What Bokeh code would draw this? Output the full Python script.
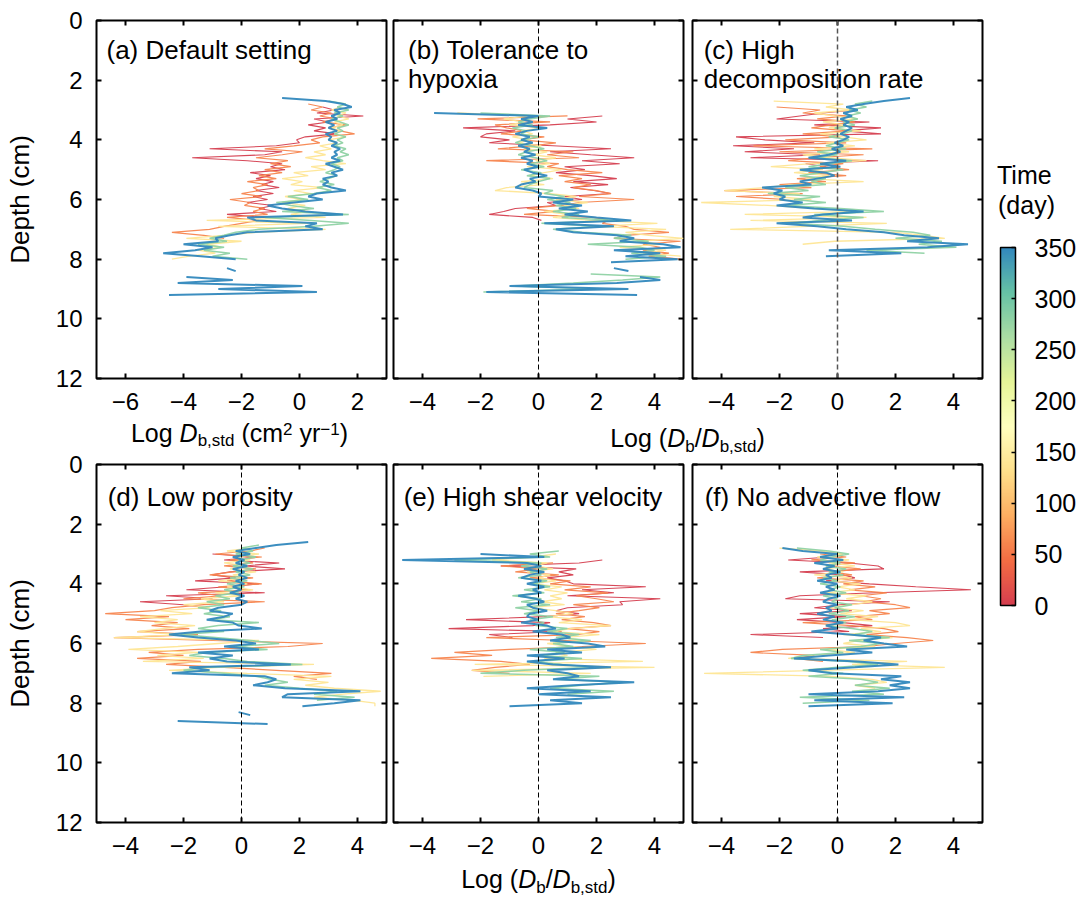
import numpy as np
from bokeh.plotting import figure
from bokeh.models import (Range1d, FixedTicker, LinearAxis, Label, Span, ColorBar,
                          LinearColorMapper)
from bokeh.layouts import row, column
from bokeh.embed import file_html
from bokeh.resources import INLINE

FONT = "Liberation Sans"
BASE_SHIFT = 0.37  # Label baseline correction, in em

# ---------------- data ----------------
# time (day) of each drawn profile, and the colour-bar ticks
TIMES = [0, 60, 140, 280, 350]
CB_TICKS = [0, 50, 100, 150, 200, 250, 300, 350]
DEPTH_TICKS = [0, 2, 4, 6, 8, 10, 12]
X_TICKS_A = [-6, -4, -2, 0, 2]
X_TICKS = [-4, -2, 0, 2, 4]
DZ = 0.1  # depth spacing of the profiles (cm)

# each profile: (first depth in cm, values every 0.1 cm; None = no value)
A_RED = (2.9, [0.8, 1.2, 0.6, 2.2, 0.5, 1.0, 0.3, 0.9, 0.5, 1.3, 0.2, -0.1, 0.0, -0.8, -3.1, -0.6, -1.2, -3.7,
               -1.8, -0.6, -1.0, -0.5, -1.7, -1.0, -1.5, -0.9, -1.3, -0.7, -1.5, -0.9, -1.6, -1.1, -1.8, -0.9,
               -1.4, -0.8, -2.5, -1.2])
A_ORANGE = (2.8, [0.3, 0.8, 0.4, 1.1, 0.7, 1.3, 0.8, 1.6, 1.0, 1.4, 1.9, 0.8, 0.4, 0.7, -0.2, -1.2, 0.1, -0.6,
                  -1.5, -0.4, -1.0, -0.3, -1.2, -0.6, -1.4, -0.8, -1.8, -1.1, -1.6, -1.4, -2.0, -1.3, -2.4, -1.7,
                  -1.9, -1.2, -1.6, -1.1, -2.5, -1.4, -2.0, -2.6, -3.1, -4.4, -3.3, -2.6])
A_YELLOW = (2.9, [1.4, 1.1, 1.6, 1.3, 1.7, 1.2, 1.5, 1.1, 1.4, 1.2, 1.6, 1.0, 1.3, 0.7, 1.1, 0.5, 0.9, 0.2, 0.8,
                  1.6, 0.4, 0.9, -0.2, 0.3, -0.6, 0.1, -0.3, 0.8, -0.2, 0.4, -0.5, 0.1, -0.6, 0.2, -0.4, 0.3,
                  -0.3, 0.9, -3.2, 0.3, -2.8, 0.9, -1.5, -2.6, -3.9, -2.0, -3.2, -2.7, -3.5, -2.9, -3.8, -4.4])
A_GREEN = (2.7, [1.0, 1.6, 1.3, 1.7, 1.2, 1.5, 1.1, 1.4, 1.7, 1.3, 1.5, 1.2, 1.6, 1.3, 1.5, 1.2, 1.6, 1.4, 1.7,
                 1.3, 1.5, 1.1, 1.4, 1.2, 0.9, 1.3, 1.0, 0.7, 1.2, 0.6, 1.1, 0.5, -0.4, 0.3, -0.8, -0.3, 0.5,
                 -0.6, 1.7, -1.2, 0.4, 1.7, 0.5, -1.4, -2.2, -2.6, -3.1, -2.5, -3.5, -2.6, -3.3, -2.4, -3.0, -1.8])
A_BLUE = (2.6, [-0.6, 0.9, 1.5, 1.8, 1.2, 1.4, 1.1, 1.3, 0.9, 1.2, 1.0, 1.3, 0.9, 1.1, 1.0, 1.3, 1.1, 1.4, 1.2,
                1.3, 1.1, 1.4, 0.9, 1.2, 1.5, 1.1, 1.3, 0.8, 1.0, 0.8, 1.1, 1.6, 0.6, 0.3, 0.8, -0.2, -1.1, -0.6,
                0.2, 1.5, -1.8, -1.5, 0.6, 0.2, 0.8, -1.8, -2.4, -2.9, -2.8, -4.0, -3.0, -3.6, -4.7, -3.4, -2.2,
                None, None, -2.5, -2.2, None, -3.9, -2.3, -4.2, 0.1, -2.8, 0.6, -4.5])

B_RED = (3.2, [2.2, 1.0, 2.0, 0.4, -2.6, -0.8, -1.8, -2.0, -1.0, -1.7, 0.5, 2.5, 0.4, 1.8, 3.3, 1.5, 2.8, 0.9,
               1.6, 0.6, 1.8, 2.7, 1.2, 2.4, 1.1, 1.9, 2.5, 0.9, 1.5, 0.3, 0.6, -0.8, -1.2, -1.7, -0.2, 0.1])
B_ORANGE = (3.2, [1.0, -2.1, 0.4, -1.5, -1.1, -0.5, -1.3, 0.2, -0.6, 0.6, -0.2, -1.4, 1.2, 0.3, 1.4, -1.8, 0.7,
                  0.3, 1.0, 2.2, 0.7, 1.5, 0.9, 1.8, 1.2, 2.0, 2.5, 1.4, 3.3, 1.4, 0.8, -0.4, 0.6, -0.5, 1.9, 2.4,
                  2.2, 3.0, 3.3, 4.5, 3.0, 2.6, 4.9, 3.6, 4.2, 3.6, 4.5, 3.8, 4.9])
B_YELLOW = (3.1, [-2.8, -0.3, -1.2, -0.5, -1.0, 0.1, -0.6, -0.2, -0.9, -0.3, -0.7, 0.1, -0.5, 0.3, -0.2, 0.6,
                  -0.1, 0.4, -0.4, 0.8, 0.2, -0.3, 0.5, -0.6, 0.2, -1.1, -1.5, 0.4, 1.3, 0.6, 1.7, 0.9, 1.4, 0.2,
                  1.0, 0.5, 1.8, 4.1, 2.0, 4.4, 3.0, 3.8, 5.0, 3.4, 4.2, 2.8, 4.4, 3.6, 4.9])
B_GREEN = (3.1, [-2.0, 0.4, -0.3, -0.7, -0.2, -0.9, -0.4, -0.6, 0.0, -0.5, -0.8, -0.3, 0.2, -0.4, -0.7, -0.1,
                 0.3, -0.3, 0.2, -0.6, 0.1, -0.4, 0.4, 0.0, -0.3, -0.5, 0.5, 0.2, 0.9, 0.3, 1.1, 0.6, 1.3, 0.5,
                 1.4, 0.8, 2.8, 0.1, 2.1, 0.5, 1.5, 3.2, 2.6, 3.8, 1.7, 3.5, 4.0, 3.2, 4.4, 3.0, None, None, None,
                 None, 1.8, 4.2, 2.9, 1.2, -0.8, 2.0, -1.9])
B_BLUE = (3.1, [-3.6, 0.0, -0.6, -0.2, -0.7, 0.3, -0.4, -0.8, -0.3, -0.6, -0.2, -0.7, -0.3, -0.5, -0.1, -0.6,
                -0.2, -0.4, 0.0, -0.5, -0.2, 0.3, -0.3, -0.1, -0.6, -0.8, -0.2, 0.1, 0.0, 1.2, 0.5, 1.5, 0.7, 1.7,
                0.9, 2.0, 3.2, 0.2, 2.6, 0.6, 1.2, 2.7, 3.3, 2.8, 4.3, 4.9, 2.6, 4.2, 3.0, 4.8, 2.5, None, 2.6,
                3.1, None, 3.5, 4.2, 2.7, -1.0, 3.1, -1.8, 3.4])

C_RED = (3.0, [0.6, -0.5, -1.3, -2.1, 1.1, -0.8, 1.5, 0.2, 1.5, -3.5, -2.5, -0.8, -3.6, -1.5, -3.2, -0.6, -3.0,
               1.4, -1.1, -0.4])
C_ORANGE = (2.9, [-2.1, -0.6, -1.2, 0.3, -0.7, 0.6, -0.2, -0.9, 0.4, -1.2, 0.1, -1.8, 0.3, -2.9, 1.2, -2.0, 0.9,
                  -0.8, -1.7, 0.2, -0.6, 0.4, -1.0, 0.3, -1.4, -0.4, -2.0, -0.9, -3.9, -1.2, -3.5, -1.8])
C_YELLOW = (2.7, [-2.2, 0.2, -0.4, 0.5, -0.8, -0.1, 0.7, -0.5, 0.3, -0.3, 0.8, -0.6, 0.2, 1.0, -0.4, 0.6, -0.8,
                  0.4, -1.2, -0.3, 1.0, -0.9, -2.3, -0.5, -1.5, -0.3, -1.1, 0.9, -1.6, -2.5, -3.9, -1.3, -2.2, -0.9,
                  -4.7, -2.4, -0.9, 0.7, -3.2, 1.0, -3.0, 1.7, -1.0, -3.7, 2.0, 3.0, 3.7, -0.1, -1.2])
C_GREEN = (2.7, [1.2, 0.6, 1.0, 0.4, 0.8, 0.3, 0.7, 0.2, 0.6, -0.1, 0.5, 0.2, -0.3, 0.4, 0.0, -0.4, 0.3, -0.7,
                 0.0, -0.8, 0.5, -0.3, -1.0, 0.2, -0.6, -1.3, -0.4, -0.9, -0.4, -1.8, -1.0, -2.4, -0.6, -1.5, -0.4,
                 -1.8, 0.1, 1.6, -0.8, 0.9, -0.6, -1.6, 0.2, 1.3, 2.6, 3.2, 2.0, 3.6, 2.8, 4.1, 1.0, 3.0])
C_BLUE = (2.6, [2.5, 1.6, 0.9, 0.3, 0.7, 0.2, 0.5, 0.1, 0.4, 0.2, 0.5, 0.3, 0.1, 0.4, 0.2, -0.1, 0.2, -0.2, 0.1,
                -0.3, -1.0, 0.3, -0.6, 0.1, -1.3, -0.4, -0.1, -0.7, -1.3, -0.9, -2.6, -1.9, -2.2, -1.8, -2.0, -1.2,
                -2.1, -0.8, 0.9, -0.5, -1.2, 0.5, -2.1, -0.7, 0.3, 1.6, 2.3, 3.5, 2.4, 4.5, 3.1, -0.3, 2.2, -0.4])

D_RED = (3.0, [-1.0, 0.5, -0.6, 1.3, 0.1, 1.5, -0.4, -1.0, -0.2, -1.6, 0.6, -0.5, -1.9, 0.8, -2.6, -1.0, -3.5,
               -2.0, -1.2])
D_ORANGE = (2.8, [0.8, 0.3, -0.9, 0.7, -0.4, 0.4, -0.6, 0.5, -0.3, -1.1, 0.4, -0.5, 0.7, -0.8, 0.3, -1.5, -0.7,
                  -2.0, 0.8, -1.3, -2.4, -3.0, -4.7, -2.5, -4.0, -2.2, -3.1, -1.8, -3.6, -1.5, -4.4, -1.0, 2.8,
                  1.6, -1.5, -3.2, -2.0, -3.6, -1.4, -2.6, -0.6, 1.2, 3.1, 1.8, 2.6])
D_YELLOW = (2.8, [0.3, -0.5, 0.6, -0.2, 0.3, -0.6, 0.2, -0.4, 0.5, -0.3, 0.1, -0.8, 0.2, -0.5, 0.4, -0.9, 0.0,
                  -1.4, -0.6, -2.0, -1.1, -2.8, -1.7, -3.5, -2.2, -3.0, -1.6, -2.7, -3.6, -2.0, -4.4, 0.6, -0.8,
                  -2.2, -3.9, -1.5, -2.9, -1.3, -3.4, 2.5, -0.8, -2.5, 0.2, 3.1, 1.8, 3.0, 2.2, 3.2, 4.8, 3.5, 2.5,
                  3.8, 4.6, 4.6])
D_GREEN = (2.7, [0.6, 0.0, 0.4, -0.2, 0.5, -0.1, 0.3, -0.3, 0.4, -0.2, 0.3, -0.4, 0.2, -0.5, 0.1, -0.6, -0.1,
                 -0.9, -0.4, -1.2, -0.6, -1.5, -0.7, -1.3, -0.4, -1.0, 0.6, -0.8, -1.5, -0.6, -2.1, -0.9, 0.3, 1.3,
                 -0.2, 0.9, -1.2, -1.8, -0.6, 0.2, 2.1, -1.2, -2.0, -0.6, 0.5, 1.0, 1.6, 0.8, 2.0, 3.3, 2.5, 3.9,
                 2.6])
D_BLUE = (2.6, [2.3, 1.2, 0.5, -0.2, 0.3, -0.3, 0.1, -0.2, 0.2, -0.3, 0.1, -0.1, 0.2, -0.2, 0.1, -0.3, 0.0, -0.4,
                0.1, -0.2, 0.2, 0.0, -0.8, -1.1, -0.3, -0.6, -1.2, -0.3, -0.1, 0.7, -1.4, -2.5, -1.5, -0.2, 0.5,
                -0.6, 0.6, -1.5, -0.3, -1.1, -0.5, 1.7, -1.8, -1.1, -2.4, 0.8, 1.2, 0.9, 0.4, 1.5, 4.1, 1.6, 1.4,
                4.1, 3.2, 2.1, None, -0.1, 0.3, None, -2.2, 0.9])

E_RED = (3.2, [2.2, 1.4, -1.3, 1.3, 0.7, 1.2, 0.3, 0.9, 1.2, 3.7, 1.5, 2.6, 1.0, 4.2, 2.8, 2.9, 1.0, 0.6, 1.4, 0.2,
               -2.5, 0.4, -0.2, -3.1, 0.8, -1.7, -0.9])
E_ORANGE = (3.3, [0.5, -1.3, 0.0, -0.8, 0.7, -0.3, 1.1, 0.4, 1.8, 0.9, 2.4, 1.3, 2.0, 2.6, 1.2, 2.1, 1.4, 0.6, 1.6,
                  0.8, 1.9, 2.5, 1.0, 2.1, 1.3, -1.8, 0.9, 3.7, 1.5, -1.0, -2.9, -1.6, -3.7, -1.3, -0.3, -1.5,
                  -2.3, -1.0])
E_YELLOW = (3.0, [0.6, -0.2, -1.6, 0.3, -0.1, 0.5, -0.4, 0.4, 0.0, 0.6, -0.2, 0.8, 0.2, 1.0, 0.4, 0.8, 0.1, 0.9,
                  -0.3, 0.6, 1.2, 0.3, 1.5, 0.7, 2.5, 1.1, 0.5, 2.1, 0.8, 1.6, 0.3, 1.1, 2.0, 0.6, 1.0, 0.2, 3.6,
                  -2.2, 4.0, -2.3, 1.8, -1.9])
E_GREEN = (2.9, [0.7, -0.3, 0.4, -2.9, 0.1, -0.6, 0.3, -0.3, 0.1, -0.7, 0.3, -0.2, 0.4, -0.5, 0.2, -0.9, 0.1,
                 -0.6, 0.4, -0.8, 0.0, -0.5, 0.5, -0.3, 0.2, -0.1, 1.0, 0.3, 1.4, 0.6, 1.8, 0.5, 1.2, -0.3, 0.9,
                 0.1, 1.5, -0.2, 0.8, 1.9, -0.5, -2.0, 2.1, 0.6, 2.9, 1.5, 0.4, 2.6, 1.0])
E_BLUE = (3.0, [-2.0, 0.2, -4.7, -0.4, 0.1, -0.5, 0.2, -0.3, -0.6, 0.1, -0.4, 0.2, -0.2, 0.1, -0.7, -0.1, 0.2,
                -0.4, -0.2, 0.3, -0.3, -0.4, 0.0, -0.6, 0.3, 0.6, -0.2, 0.8, 1.1, 0.4, 1.7, 2.3, 0.3, 1.5, -0.4,
                0.9, -0.4, 0.5, 2.5, 0.3, 1.0, 1.4, 0.5, 3.3, 1.2, -0.4, 1.8, 0.0, 2.5, 0.4, 1.5, -1.0])

F_RED = (3.1, [-0.3, -1.7, 0.4, 1.4, 1.6, -1.3, 0.2, 0.6, -0.4, 1.1, 2.7, 4.6, 1.3, -1.3, -1.8, 1.8, 0.1, -0.8,
               0.5, -1.3, 0.3, -1.4, 0.2, 1.2, -0.5, 0.4, -3.0, -0.5])
F_ORANGE = (3.0, [-0.6, 0.3, -0.9, 0.6, -0.4, 0.8, -0.2, 0.5, -0.7, 0.9, 0.2, 1.3, 0.4, 1.7, 0.8, 1.5, 0.9, 2.0,
                  2.5, 1.1, 1.8, 0.6, 1.2, -1.2, 0.5, 1.6, 2.1, 1.0, 2.4, 3.3, 2.0, 1.0, -1.9, -3.0, -0.8, -1.5,
                  -0.5])
F_YELLOW = (2.8, [-2.0, -0.6, 0.2, -0.7, 0.4, -0.3, 0.6, -0.5, 0.2, -0.8, 0.5, -0.2, 0.8, 0.0, 0.6, -0.4, 1.0,
                  0.3, 1.2, 0.5, -0.3, 0.9, 0.1, 1.4, 0.4, 2.0, 2.5, 0.8, 1.5, 0.2, 1.9, 0.7, 0.2, 1.3, -0.4, 0.6,
                  -1.0, -1.7, 2.4, 0.5, 3.7, -0.6, -4.6, -0.2, 1.2, 1.7, 0.6, 1.3])
F_GREEN = (2.8, [-1.4, -0.3, 0.4, -0.2, -0.6, 0.1, -0.4, 0.3, -0.3, 0.2, -0.5, 0.0, -0.6, 0.1, -0.3, 0.3, -0.5,
                 0.0, -0.2, 0.5, -0.1, 0.4, -0.3, 0.6, -0.2, 0.3, -0.4, 0.5, 1.2, 0.6, 1.8, 0.4, 1.5, 0.8, -0.6,
                 0.2, -1.2, -1.6, 0.4, 1.4, 0.0, -1.2, 0.2, -1.0, 0.8, 1.4, 0.6, 1.8, 0.5, 1.6, -1.3, 1.1, -1.2])
F_BLUE = (2.8, [-1.9, -1.2, 0.0, -0.6, 0.2, -0.8, -0.1, -0.5, 0.1, -0.4, -0.2, -0.7, 0.0, -0.4, -0.1, -0.6, 0.1,
                -0.3, -0.5, 0.0, -0.4, -0.2, -0.7, -0.1, -0.5, 0.2, -0.4, 0.0, -0.9, 0.4, 1.5, 0.9, 1.6, 2.4, 0.3,
                1.2, -0.3, -1.5, 0.7, 2.1, 0.6, -1.0, -0.2, 2.2, 1.5, 2.5, 1.8, 2.5, 1.4, -1.0, 2.3, -0.8, 1.9,
                -1.0])

TITLES = {
    "a": ["(a) Default setting"],
    "b": ["(b) Tolerance to", "hypoxia"],
    "c": ["(c) High", "decomposition rate"],
    "d": ["(d) Low porosity"],
    "e": ["(e) High shear velocity"],
    "f": ["(f) No advective flow"],
}

# ---------------- colour map (red -> yellow -> blue) ----------------
STOPS = ["#d53e4f", "#f46d43", "#fdae61", "#fee08b", "#ffffbf", "#e6f598", "#abdda4", "#66c2a5", "#3288bd"]
STOP_RGB = np.array([[int(s[i:i + 2], 16) for i in (1, 3, 5)] for s in STOPS], dtype=float)
STOP_POS = np.linspace(0, 350, len(STOPS))


def color_at(t):
    rgb = [np.interp(t, STOP_POS, STOP_RGB[:, k]) for k in range(3)]
    return "#%02x%02x%02x" % tuple(int(round(c)) for c in rgb)


PALETTE = [color_at(t) for t in np.linspace(0, 350, 256)]
LINE_WIDTHS = [1.1, 1.2, 1.3, 1.5, 2.0]

# ---------------- helpers ----------------
CHAR_W = {' ': 278, '(': 333, ')': 333, ',': 278, '/': 278, '-': 333, '\u2212': 584, '0': 556, '1': 556,
          '2': 556, 'L': 556, 'o': 556, 'g': 556, 'D': 722, 'b': 556, 's': 500, 't': 278, 'd': 556, 'c': 500,
          'm': 833, 'y': 500, 'r': 333}


def text_w(s, size):
    return sum(CHAR_W.get(ch, 556) for ch in s) * size / 1000.0


def page_label(fig, x, y_base, text, size, style="normal"):
    """Label whose glyph baseline sits at page-pixel y_base (strip / colour-bar figures)."""
    fig.add_layout(Label(x=x, y=y_base - BASE_SHIFT * size, text=text, text_font=FONT,
                         text_font_size=f"{size}px", text_font_style=style, text_baseline="alphabetic",
                         text_align="left", text_color="black"))


def rich_label(fig, xc, yb, pieces):
    total = sum(text_w(t, sz) for t, sz, st, dy in pieces)
    x = xc - total / 2.0
    for t, sz, st, dy in pieces:
        if t.strip():
            page_label(fig, x, yb + dy, t, sz, st)
        x += text_w(t, sz)


def style_axis(ax, ticks, labels=True):
    ax.ticker = FixedTicker(ticks=ticks)
    ax.major_tick_in = 5
    ax.major_tick_out = 0
    ax.major_tick_line_width = 2
    ax.major_tick_line_color = "black"
    ax.minor_tick_line_color = None
    ax.axis_line_color = None
    if labels:
        ax.major_label_text_font = FONT
        ax.major_label_text_font_size = "24px"
        ax.major_label_text_color = "black"
        ax.major_label_standoff = 14
    else:
        ax.major_label_overrides = {t: "" for t in ticks}
        ax.major_label_text_font_size = "0px"
        ax.major_label_standoff = 0


def blank_axis(ticks):
    ax = LinearAxis()
    style_axis(ax, ticks, labels=False)
    return ax


def make_panel(key, xr, xticks, width, height, lb, rb, tb, bb, ylabels, profiles, dashed, title_y):
    p = figure(width=width, height=height, x_range=Range1d(*xr), y_range=Range1d(12, 0),
               output_backend="svg", toolbar_location=None, title=None,
               min_border_left=lb, min_border_right=rb, min_border_top=tb, min_border_bottom=bb)
    p.grid.visible = False
    p.outline_line_color = "black"
    p.outline_line_width = 2
    p.background_fill_color = "white"
    p.border_fill_color = "white"
    style_axis(p.xaxis[0], xticks, True)
    style_axis(p.yaxis[0], DEPTH_TICKS, ylabels)
    if ylabels:
        p.yaxis[0].axis_label = "Depth (cm)"
        p.yaxis[0].axis_label_text_font = FONT
        p.yaxis[0].axis_label_text_font_size = "26px"
        p.yaxis[0].axis_label_text_font_style = "normal"
        p.yaxis[0].axis_label_text_color = "black"
        p.yaxis[0].axis_label_standoff = 18
    p.add_layout(blank_axis(xticks), "above")
    p.add_layout(blank_axis(DEPTH_TICKS), "right")
    if dashed:
        if key == "c":
            p.add_layout(Span(location=0, dimension="height", line_color="#555555", line_width=1.5,
                              line_dash="5 3"))
        else:
            p.add_layout(Span(location=0, dimension="height", line_color="black", line_width=1,
                              line_dash="5 3"))
    for (z0, vals), t, lw in zip(profiles, TIMES, LINE_WIDTHS):
        x = np.array(vals, dtype=float)
        z = z0 + DZ * np.arange(len(x))
        p.line(x=x, y=z, line_color=color_at(t), line_width=lw, line_alpha=0.95)
    off = {"a": 10.0, "b": 14.5, "c": 11.2, "d": 11.2, "e": 10.2, "f": 12.2}[key]
    tx = xr[0] + off / 29.0
    ty = title_y - BASE_SHIFT * 26 / 29.85
    for i, line in enumerate(TITLES[key]):
        p.add_layout(Label(x=tx, y=ty + i * 0.97, text=line, text_font=FONT, text_font_size="26px",
                           text_baseline="alphabetic", text_align="left", text_color="black"))
    return p


def strip(x0, width, y0, height, lb=0, rb=0):
    """Text strip; its frame spans page x (x0+lb) .. (x0+width-rb) and page y y0 .. y0+height."""
    s = figure(width=width, height=height, x_range=Range1d(x0 + lb, x0 + width - rb),
               y_range=Range1d(y0 + height, y0),
               output_backend="svg", toolbar_location=None, title=None,
               min_border_left=lb, min_border_right=rb, min_border_top=0, min_border_bottom=0,
               x_axis_location=None, y_axis_location=None)
    s.grid.visible = False
    s.outline_line_color = None
    s.border_fill_color = "white"
    s.background_fill_color = "white"
    return s


# ---------------- panels ----------------
pa = make_panel("a", (-7, 3), X_TICKS_A, 389, 422, 96, 3, 20, 44, True,
                [A_RED, A_ORANGE, A_YELLOW, A_GREEN, A_BLUE], False, 1.32)
pb = make_panel("b", (-5, 5), X_TICKS, 298, 422, 4, 4, 20, 44, False,
                [B_RED, B_ORANGE, B_YELLOW, B_GREEN, B_BLUE], True, 1.32)
pc = make_panel("c", (-5, 5), X_TICKS, 298, 422, 5, 3, 20, 44, False,
                [C_RED, C_ORANGE, C_YELLOW, C_GREEN, C_BLUE], True, 1.32)
# panel d has a taller top border so its "0" depth label is not clipped
pd = make_panel("d", (-5, 5), X_TICKS, 389, 449, 96, 3, 14, 77, True,
                [D_RED, D_ORANGE, D_YELLOW, D_GREEN, D_BLUE], True, 1.42)
pe = make_panel("e", (-5, 5), X_TICKS, 298, 406, 4, 4, 4, 44, False,
                [E_RED, E_ORANGE, E_YELLOW, E_GREEN, E_BLUE], True, 1.42)
pf = make_panel("f", (-5, 5), X_TICKS, 298, 406, 5, 3, 4, 44, False,
                [F_RED, F_ORANGE, F_YELLOW, F_GREEN, F_BLUE], True, 1.42)

# ---------------- axis titles ----------------
LOG_DSTD = [("Log", 25, "normal", 0), (" ", 25, "normal", 0), ("D", 25, "italic", 0),
            ("b,std", 17, "normal", 4), (" ", 25, "normal", 0), ("(cm", 25, "normal", 0),
            ("2", 17, "normal", -7), (" ", 25, "normal", 0), ("yr", 25, "normal", 0),
            ("\u22121", 17, "normal", -7), (")", 25, "normal", 0)]
RATIO = [("Log", 25, "normal", 0), (" ", 25, "normal", 0), ("(", 25, "normal", 0), ("D", 25, "italic", 0),
         ("b", 17, "normal", 5), ("/", 25, "normal", 0), ("D", 25, "italic", 0), ("b,std", 17, "normal", 5),
         (")", 25, "normal", 0)]

# strip under panel (a): same side borders as panels a/d so its frame lines up with theirs
s1a = strip(0, 389, 422, 28, lb=96, rb=3)
rich_label(s1a, 239, 442, LOG_DSTD)
s1 = strip(389, 596, 422, 38)
rich_label(s1, 687, 447, RATIO)
s2 = strip(389, 596, 866, 33)
rich_label(s2, 538, 888, RATIO)

# ---------------- colour bar ----------------
cbf = figure(width=97, height=899, x_range=Range1d(0, 97), y_range=Range1d(899, 0),
             output_backend="svg", toolbar_location=None, min_border=0, title=None,
             x_axis_location=None, y_axis_location=None)
cbf.grid.visible = False
cbf.outline_line_color = None
mapper = LinearColorMapper(palette=PALETTE, low=0, high=350)
cb = ColorBar(color_mapper=mapper, ticker=FixedTicker(ticks=CB_TICKS), width=15, height=358,
              location=(15, 294), padding=0, margin=0, label_standoff=19,
              major_label_text_font=FONT, major_label_text_font_size="25px", major_label_text_color="black",
              major_tick_line_color="black", major_tick_in=4, major_tick_out=0, major_tick_line_width=1.5,
              minor_tick_line_color=None, bar_line_color="black", bar_line_width=1.5,
              border_line_color=None, background_fill_color=None)
cbf.add_layout(cb, "center")
page_label(cbf, 11.5, 184, "Time", 25)
page_label(cbf, 12.5, 214, "(day)", 25)

col1 = column(pa, s1a, pd)
col23 = column(row(pb, pc), s1, row(pe, pf), s2)
layout = row(col1, col23, cbf)

with open("out.html", "w") as fh:
    fh.write(file_html(layout, INLINE))
